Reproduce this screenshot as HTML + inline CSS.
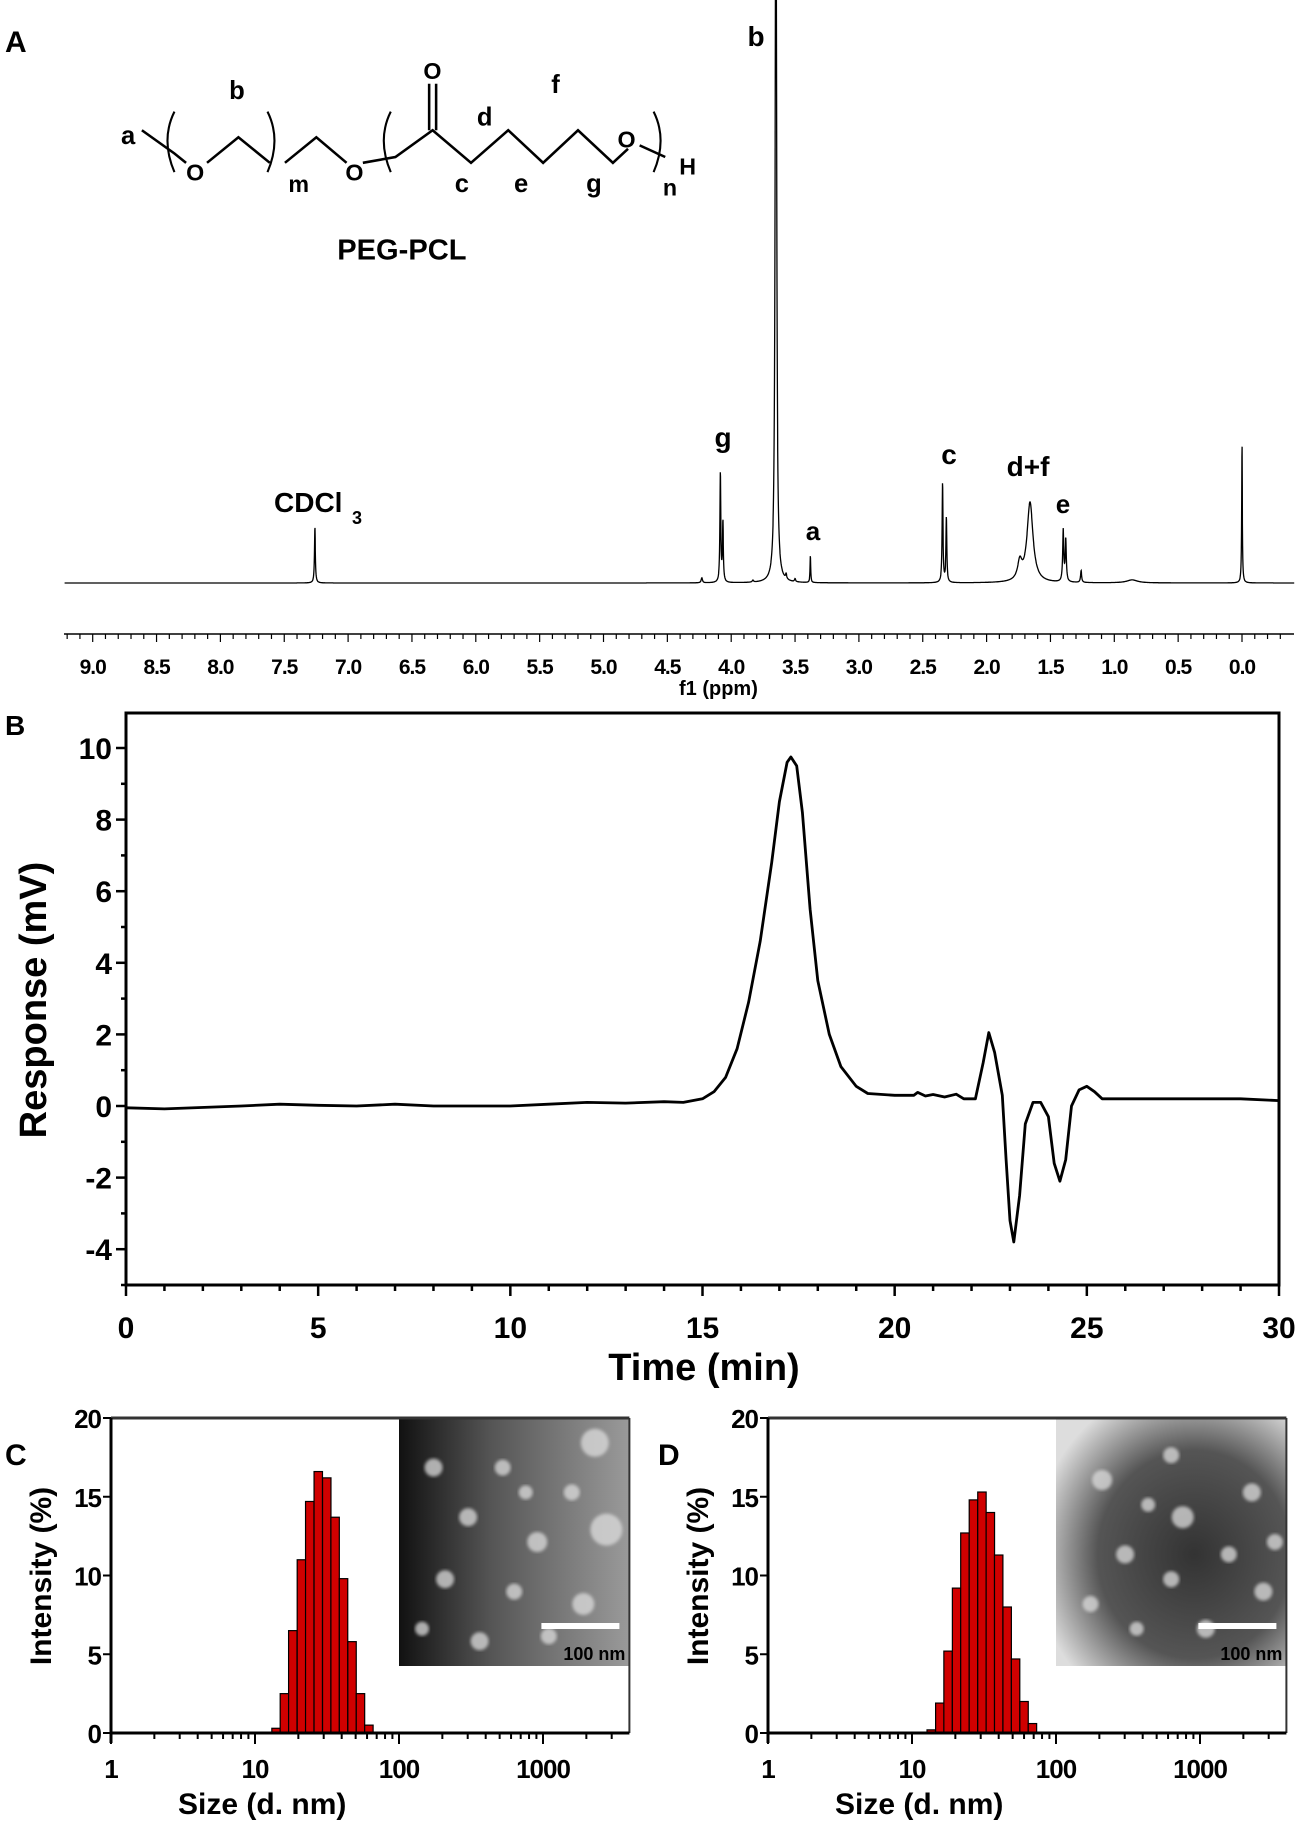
<!DOCTYPE html>
<html><head><meta charset="utf-8"><style>
html,body{margin:0;padding:0;background:#fff}
svg{display:block}
text{font-family:"Liberation Sans",sans-serif;font-weight:bold;fill:#000}
</style></head><body>
<svg id="fig" width="1305" height="1823" viewBox="0 0 1305 1823" xmlns="http://www.w3.org/2000/svg">
<defs>
<linearGradient id="gC" x1="0" x2="1" y1="0" y2="0"><stop offset="0" stop-color="#111"/><stop offset="0.4" stop-color="#555"/><stop offset="1" stop-color="#9a9a9a"/></linearGradient>
<radialGradient id="gD" cx="0.6" cy="0.55" r="0.7"><stop offset="0" stop-color="#333"/><stop offset="0.6" stop-color="#555"/><stop offset="1" stop-color="#ddd"/></radialGradient>
<filter id="bl"><feGaussianBlur stdDeviation="1.5"/></filter>
</defs>

<!-- Panel A -->
<text x="5" y="52" font-size="30">A</text>
<g id="structure" transform="scale(1.163)" stroke="#000" stroke-width="2.2" fill="none">
<polyline points="122,112 150,132 160,140"/>
<polyline points="178,140 205,118 232,140"/>
<polyline points="245,140 272,118 298,140"/>
<polyline points="312,140 340,135 372,112 405,140 437,112 467,140 497,112 527,140 540,128"/>
<line x1="369" y1="112" x2="369" y2="72"/><line x1="375" y1="112" x2="375" y2="72"/>
<line x1="550" y1="125" x2="572" y2="135"/>
<path d="M150,96 Q138,120 150,148" stroke-width="1.8"/>
<path d="M230,96 Q242,120 230,148" stroke-width="1.8"/>
<path d="M336,96 Q324,120 336,148" stroke-width="1.8"/>
<path d="M562,96 Q574,120 562,148" stroke-width="1.8"/>
</g>
<g transform="scale(1.163)">
<text x="104" y="124" font-size="22">a</text>
<text x="160" y="155" font-size="20" font-weight="normal">O</text>
<text x="197" y="85" font-size="22">b</text>
<text x="248" y="165" font-size="20">m</text>
<text x="297" y="155" font-size="20" font-weight="normal">O</text>
<text x="364" y="68" font-size="20" font-weight="normal">O</text>
<text x="391" y="165" font-size="22">c</text>
<text x="410" y="108" font-size="22">d</text>
<text x="442" y="165" font-size="22">e</text>
<text x="474" y="80" font-size="22">f</text>
<text x="504" y="165" font-size="22">g</text>
<text x="531" y="127" font-size="20" font-weight="normal">O</text>
<text x="570" y="168" font-size="20">n</text>
<text x="584" y="150" font-size="20" font-weight="normal">H</text>
<text x="290" y="223" font-size="25">PEG-PCL</text>
</g>

<g id="nmr"></g>

<!-- Panel B -->
<text x="5" y="735" font-size="28">B</text>
<g id="gpc"></g>

<!-- Panels C and D -->
<text x="5" y="1465" font-size="30">C</text>
<text x="658" y="1465" font-size="30">D</text>
<g id="dlsC"></g>
<g id="dlsD"></g>
</svg>
<script>
const NS="http://www.w3.org/2000/svg";
function mk(p,tag,at,txt){const e=document.createElementNS(NS,tag);for(const k in at)e.setAttribute(k,at[k]);if(txt!==undefined)e.textContent=txt;p.appendChild(e);return e;}

// ===== NMR data =====
const nmrPpm    =[7.26,4.23,4.085,4.065,3.83,3.65,3.57,3.50,3.38,2.345,2.315,1.74,1.66,1.40,1.38,1.26,0.86,0.0];
const nmrHeight =[0.56,0.05,1.1,0.6,0.02,9.0,0.05,0.03,0.27,1.0,0.65,0.18,0.8,0.52,0.42,0.12,0.03,1.4];
const nmrWidth  =[0.004,0.006,0.004,0.004,0.006,0.006,0.005,0.005,0.003,0.004,0.004,0.02,0.028,0.005,0.005,0.005,0.05,0.003];
const nmrTicks  =[9.0,8.5,8.0,7.5,7.0,6.5,6.0,5.5,5.0,4.5,4.0,3.5,3.0,2.5,2.0,1.5,1.0,0.5,0.0];
(function(){
const g=document.getElementById('nmr');
const X=p=>1242-p*127.7, base=583, Y=v=>base-v*100;
let d="";
for(let p=9.22;p>=-0.41;p-=0.0015){let v=0;for(let i=0;i<nmrPpm.length;i++){const t=(p-nmrPpm[i])/nmrWidth[i];v+=nmrHeight[i]/(1+t*t);}
 let y=Math.max(0,Y(v));d+=(d?"L":"M")+X(p).toFixed(1)+","+y.toFixed(1);}
const sp=mk(g,'path',{d:d,fill:'none',stroke:'#000','stroke-width':1.3});


const ax=mk(g,'line',{x1:64,x2:1294,y1:634,y2:634,stroke:'#000','stroke-width':1.5});


for(let k=-3;k<=93;k++){const p=k/10;const x=X(p);if(x<64||x>1294)continue;const maj=k%5===0;
 mk(g,'line',{x1:x,x2:x,y1:634,y2:634+(maj?8:5),stroke:'#000','stroke-width':1.2});}
nmrTicks.forEach(t=>{const tl=mk(g,'text',{x:X(t),y:674,'font-size':21,'text-anchor':'middle','letter-spacing':'-1'},t.toFixed(1));
 
 });
const xt=mk(g,'text',{x:X(4.1),y:695,'font-size':20,'text-anchor':'middle'},'f1 (ppm)');


const labs=[['b',756,46,28],['g',723,447,28],['a',813,540,26],['c',949,464,28],['d+f',1028,476,28],['e',1063,513,26]];
labs.forEach(l=>{const t=mk(g,'text',{x:l[1],y:l[2],'font-size':l[3],'text-anchor':'middle'},l[0]);
 
 });
const c=mk(g,'text',{x:274,y:512,'font-size':28},'CDCl');


mk(g,'text',{x:352,y:524,'font-size':18},'3');
})();

// ===== GPC data =====
const gpcTime=[0,1,3,4,5,6,7,8,10,11,12,13,14,14.5,15,15.3,15.6,15.9,16.2,16.5,16.8,17.0,17.2,17.3,17.45,17.6,17.8,18.0,18.3,18.6,19.0,19.3,20,20.5,20.6,20.8,21,21.3,21.6,21.8,22.1,22.3,22.45,22.6,22.8,22.9,23.0,23.1,23.25,23.4,23.6,23.8,24.0,24.15,24.3,24.45,24.6,24.8,25,25.2,25.4,29,30];
const gpcResp=[-0.05,-0.08,0,0.05,0.02,0,0.05,0,0,0.05,0.1,0.08,0.12,0.1,0.2,0.4,0.8,1.6,2.9,4.6,6.8,8.5,9.6,9.75,9.5,8.2,5.5,3.5,2.0,1.1,0.55,0.35,0.3,0.3,0.38,0.28,0.32,0.25,0.33,0.2,0.2,1.2,2.05,1.5,0.3,-1.5,-3.2,-3.8,-2.5,-0.5,0.1,0.1,-0.3,-1.6,-2.1,-1.5,0.0,0.45,0.55,0.4,0.2,0.2,0.15];
const gpcXTicks=[0,5,10,15,20,25,30];
const gpcYTicks=[-4,-2,0,2,4,6,8,10];
(function(){
const g=document.getElementById('gpc');
const L=126,R=1279,T=713,B=1285;
const X=t=>L+t/30*(R-L), Y=v=>1106-v*35.8;
mk(g,'rect',{x:L,y:T,width:R-L,height:B-T,fill:'none',stroke:'#000','stroke-width':3});
for(let t=0;t<=30;t++){const x=X(t);mk(g,'line',{x1:x,x2:x,y1:B,y2:B+(t%5?6:11),stroke:'#000','stroke-width':2.5});}
for(let v=-5;v<=10;v++){const y=Y(v);mk(g,'line',{x1:L,x2:L-(v%2?5:10),y1:y,y2:y,stroke:'#000','stroke-width':2.5});}
gpcXTicks.forEach(t=>{const e=mk(g,'text',{x:X(t),y:1338,'font-size':30,'text-anchor':'middle'},t);
 
 });
gpcYTicks.forEach(v=>{const e=mk(g,'text',{x:L-14,y:Y(v)+11,'font-size':30,'text-anchor':'end'},v);
 
 });
const xt=mk(g,'text',{x:704,y:1380,'font-size':38,'text-anchor':'middle'},'Time (min)');


const yt=mk(g,'text',{x:0,y:0,'font-size':38,'text-anchor':'middle',transform:'translate(46,1000) rotate(-90)'},'Response (mV)');


let d="";gpcTime.forEach((t,i)=>{d+=(i?"L":"M")+X(t).toFixed(1)+","+Y(gpcResp[i]).toFixed(1);});
const p=mk(g,'path',{d:d,fill:'none',stroke:'#000','stroke-width':2.8,'stroke-linejoin':'round'});


})();

// ===== DLS data =====
const dlsCSize=[14.0,16.0,18.3,21.0,24.0,27.5,31.5,36.0,41.2,47.2,54.0,61.8];
const dlsCInt =[0.3,2.5,6.5,11.0,14.7,16.6,16.2,13.7,9.8,5.8,2.5,0.5];
const dlsDSize=[13.6,15.6,17.8,20.4,23.3,26.7,30.6,35.0,40.0,45.8,52.4,60.0,68.6];
const dlsDInt =[0.2,1.9,5.2,9.2,12.7,14.8,15.3,14.0,11.3,8.0,4.7,2.0,0.6];
const dlsXTicks=[1,10,100,1000];
const dlsYTicks=[0,5,10,15,20];
function dls(id,x0,sizes,vals,tem){
 const g=document.getElementById(id);
 const dec=144,T=1418,B=1733,R=x0+3.6*dec;
 const X=s=>x0+Math.log10(s)*dec, Y=v=>B-v/20*(B-T);
 const ix=x0+2*dec,iw=R-ix,ih=248;
 mk(g,'rect',{x:ix,y:T,width:iw,height:ih,fill:tem==='C'?'url(#gC)':'url(#gD)'});
 const dots=tem==='C'?[[0.85,0.1,14],[0.9,0.45,16],[0.15,0.2,9],[0.45,0.2,8],[0.3,0.4,9],[0.6,0.5,10],[0.2,0.65,9],[0.5,0.7,8],[0.8,0.75,11],[0.35,0.9,9],[0.65,0.88,8],[0.1,0.85,7],[0.55,0.3,7],[0.75,0.3,8]]:
  [[0.2,0.25,10],[0.5,0.15,8],[0.85,0.3,9],[0.55,0.4,11],[0.75,0.55,8],[0.3,0.55,9],[0.9,0.7,9],[0.5,0.65,8],[0.15,0.75,8],[0.65,0.85,9],[0.35,0.85,7],[0.95,0.5,8],[0.4,0.35,7]];
 dots.forEach(c=>mk(g,'circle',{cx:ix+c[0]*iw,cy:T+c[1]*ih,r:c[2],fill:'#ddd',opacity:0.75,filter:'url(#bl)'}));
 mk(g,'rect',{x:ix+iw-88,y:T+226-21,width:78,height:6,fill:'#fff'});
 const sb=mk(g,'text',{x:ix+iw-4,y:T+242,'font-size':18,'text-anchor':'end'},'100 nm');
 
 
 const w=0.0585;
 sizes.forEach((s,i)=>{const l=X(s)-w*dec/2;
  const r=mk(g,'rect',{x:l,y:Y(vals[i]),width:w*dec,height:B-Y(vals[i]),fill:'#d00000',stroke:'#000','stroke-width':1.2});
  
  });
 mk(g,'line',{x1:x0,x2:R,y1:T,y2:T,stroke:'#333','stroke-width':3});
 mk(g,'line',{x1:R,x2:R,y1:T,y2:B,stroke:'#333','stroke-width':2});
 mk(g,'line',{x1:x0,x2:x0,y1:T,y2:B+10,stroke:'#000','stroke-width':3});
 mk(g,'line',{x1:x0,x2:R,y1:B,y2:B,stroke:'#000','stroke-width':3});
 for(let e=0;e<4;e++)for(let m=1;m<10;m++){const lv=e+Math.log10(m);if(lv>3.6)break;const x=x0+lv*dec;
  mk(g,'line',{x1:x,x2:x,y1:B,y2:B+(m===1?11:6),stroke:'#000','stroke-width':2});}
 dlsYTicks.forEach(v=>{mk(g,'line',{x1:x0,x2:x0-8,y1:Y(v),y2:Y(v),stroke:'#000','stroke-width':2});
  const t=mk(g,'text',{x:x0-10,y:Y(v)+10,'font-size':26,'text-anchor':'end','letter-spacing':'-1'},v);
  
  });
 dlsXTicks.forEach(s=>{const t=mk(g,'text',{x:X(s),y:1778,'font-size':26,'text-anchor':'middle','letter-spacing':'-1'},s);
  
  });
 const xt=mk(g,'text',{x:x0+1.05*dec,y:1814,'font-size':30,'text-anchor':'middle'},'Size (d. nm)');
 
 
 const yt=mk(g,'text',{x:0,y:0,'font-size':30,'text-anchor':'middle',transform:'translate('+(x0-60)+',1576) rotate(-90)'},'Intensity (%)');
 
 
}
dls('dlsC',111,dlsCSize,dlsCInt,'C');
dls('dlsD',768,dlsDSize,dlsDInt,'D');
</script>
</body></html>
